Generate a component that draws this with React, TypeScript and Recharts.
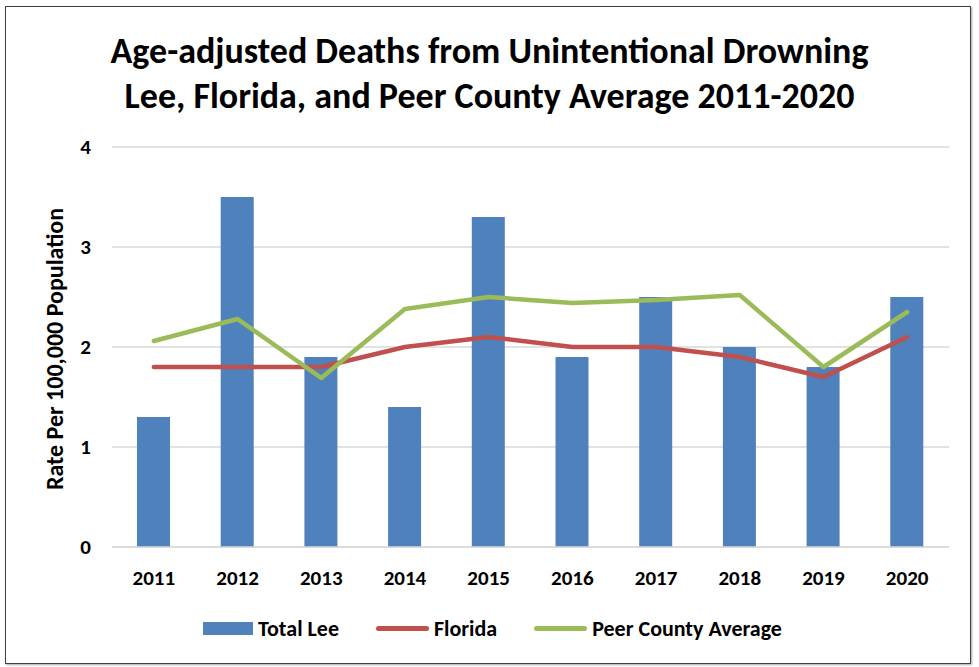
import React from 'react';
import {
  ComposedChart,
  Bar,
  Line,
  XAxis,
  YAxis,
  CartesianGrid,
  Legend,
  Label,
} from 'recharts';

const years = ['2011', '2012', '2013', '2014', '2015', '2016', '2017', '2018', '2019', '2020'];
const totalLee = [1.3, 3.5, 1.9, 1.4, 3.3, 1.9, 2.5, 2.0, 1.8, 2.5];
const florida = [1.8, 1.8, 1.8, 2.0, 2.1, 2.0, 2.0, 1.9, 1.7, 2.1];
const peerAverage = [2.06, 2.28, 1.69, 2.38, 2.5, 2.44, 2.47, 2.52, 1.8, 2.35];
const yTicks = [0, 1, 2, 3, 4];

const FONT = "Carlito, Lato, 'Open Sans', sans-serif";
const BLUE = '#4F81BD';
const RED = '#C0504D';
const GREEN = '#9BBB59';

const data = years.map((year, i) => ({
  year,
  lee: totalLee[i],
  florida: florida[i],
  peer: peerAverage[i],
}));

const legendItems = [
  { name: 'Total Lee', color: BLUE, kind: 'rect' },
  { name: 'Florida', color: RED, kind: 'line' },
  { name: 'Peer County Average', color: GREEN, kind: 'line' },
];

const LegendContent = () => (
  <div style={{ display: 'flex', justifyContent: 'center', alignItems: 'center', fontFamily: FONT, height: 26 }}>
    {legendItems.map((item, i) => (
      <div
        key={item.name}
        style={{ display: 'flex', alignItems: 'center', marginRight: i < legendItems.length - 1 ? 37 : 0 }}
      >
        {item.kind === 'rect' ? (
          <div style={{ width: 50, height: 13, background: item.color }} />
        ) : (
          <div style={{ width: 53, height: 5, borderRadius: 3, background: item.color }} />
        )}
        <span style={{ marginLeft: 5, fontSize: 22, fontWeight: 700, color: '#000' }}>{item.name}</span>
      </div>
    ))}
  </div>
);

export default function App() {
  return (
    <div style={{ position: 'absolute', left: 0, top: 0, width: 979, height: 667, background: '#fff' }}>
      <div
        style={{
          position: 'absolute',
          left: 5,
          top: 6,
          width: 964,
          height: 656,
          border: '1.5px solid #404040',
          boxShadow: '1px 1px 2px rgba(0,0,0,0.35)',
        }}
      />
      <div
        style={{
          position: 'absolute',
          left: 0,
          top: 29,
          width: 979,
          textAlign: 'center',
          fontFamily: FONT,
          fontWeight: 700,
          fontSize: 36,
          lineHeight: '45px',
          color: '#000',
        }}
      >
        <div>Age-adjusted Deaths from Unintentional Drowning</div>
        <div>Lee, Florida, and Peer County Average 2011-2020</div>
      </div>
      <div style={{ position: 'absolute', left: 0, top: 0 }}>
        <ComposedChart
          width={979}
          height={667}
          data={data}
          margin={{ top: 147, right: 30, bottom: 64, left: 62 }}
          barSize={33}
        >
          <CartesianGrid vertical={false} stroke="#D9D9D9" strokeWidth={1.5} />
          <XAxis
            dataKey="year"
            axisLine={{ stroke: '#D9D9D9', strokeWidth: 1.5 }}
            tickLine={false}
            tickMargin={17}
            tick={{ fontFamily: FONT, fontSize: 21, fontWeight: 700, fill: '#000' }}
          />
          <YAxis
            width={50}
            domain={[0, 4]}
            ticks={yTicks}
            axisLine={false}
            tickLine={false}
            tickMargin={15}
            tick={{ fontFamily: FONT, fontSize: 21, fontWeight: 700, fill: '#000' }}
          >
            <Label
              content={() => (
                <text
                  x={54}
                  y={349}
                  transform="rotate(-90 54 349)"
                  textAnchor="middle"
                  dominantBaseline="central"
                  fontFamily={FONT}
                  fontSize={24}
                  fontWeight={700}
                  fill="#000"
                >
                  Rate Per 100,000 Population
                </text>
              )}
            />
          </YAxis>
          <Legend
            verticalAlign="bottom"
            content={<LegendContent />}
            wrapperStyle={{ left: 3, width: 979, top: 615 }}
          />
          <Bar dataKey="lee" name="Total Lee" fill={BLUE} isAnimationActive={false} />
          <Line
            dataKey="florida"
            name="Florida"
            stroke={RED}
            strokeWidth={4.5}
            strokeLinecap="round"
            strokeLinejoin="round"
            dot={false}
            activeDot={false}
            isAnimationActive={false}
          />
          <Line
            dataKey="peer"
            name="Peer County Average"
            stroke={GREEN}
            strokeWidth={4.5}
            strokeLinecap="round"
            strokeLinejoin="round"
            dot={false}
            activeDot={false}
            isAnimationActive={false}
          />
        </ComposedChart>
      </div>
    </div>
  );
}
